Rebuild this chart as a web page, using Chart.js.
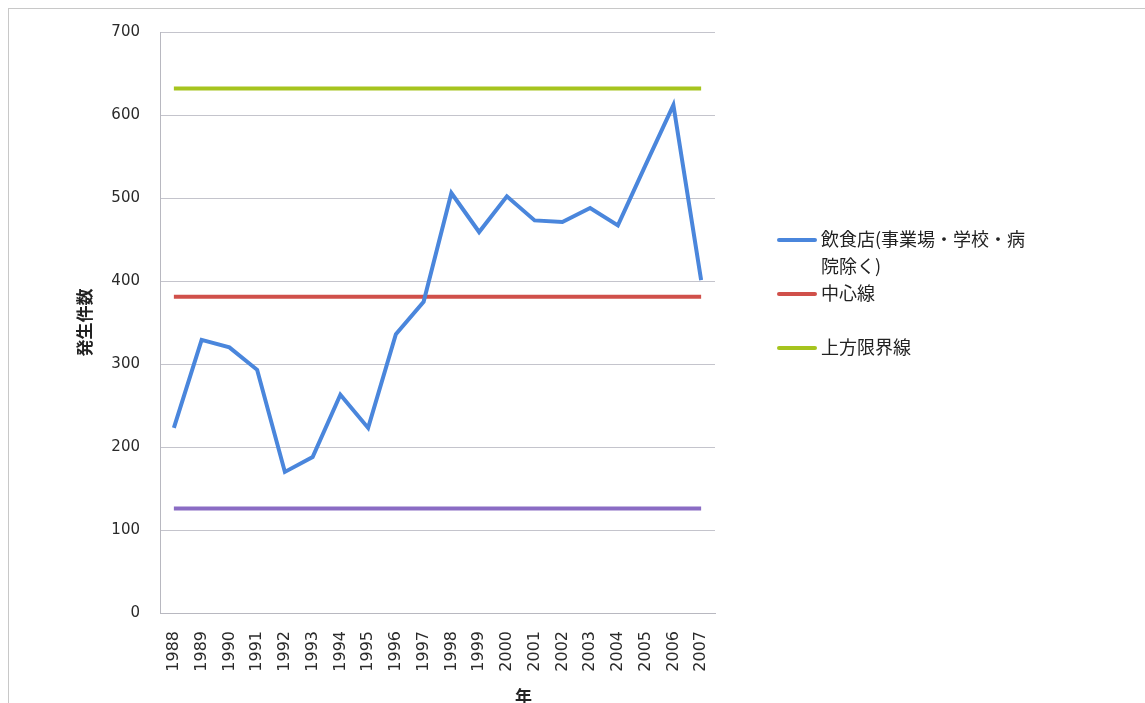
<!DOCTYPE html>
<html>
<head>
<meta charset="utf-8">
<script src="https://cdn.jsdelivr.net/npm/chart.js@4/dist/chart.umd.min.js"></script>
<style>
    html, body { margin: 0; padding: 0; background: #fff; }
    #wrap { position: relative; width: 1145px; height: 703px; overflow: hidden; }
    #frame { position: absolute; left: 8px; top: 8px; width: 1200px; height: 800px; border: 1px solid #c8c8c8; box-sizing: border-box; }
    #legend { position: absolute; left: 777px; top: 225px; font-family: "Noto Sans CJK JP", sans-serif; font-size: 18px; color: #222; }
    .item { display: flex; align-items: flex-start; line-height: 27px; }
    .swatch { width: 40px; height: 4px; margin-top: 13px; margin-right: 4px; border-radius: 2px; flex: none; }
</style>
</head>
<body>
<div id="wrap">
    <div id="frame"></div>
    <canvas id="chart" width="1145" height="703"></canvas>
    <div id="legend"></div>
</div>
<script>
const years = ['1988', '1989', '1990', '1991', '1992', '1993', '1994', '1995', '1996', '1997',
    '1998', '1999', '2000', '2001', '2002', '2003', '2004', '2005', '2006', '2007'];
const cases = [223, 329, 320, 293, 170, 188, 263, 223, 336, 375,
    506, 459, 502, 473, 471, 488, 467, 540, 612, 401];
const centerLine = 381;
const upperLimit = 632;
const lowerLimit = 126;
const yTicks = [0, 100, 200, 300, 400, 500, 600, 700];

const seriesNames = ['飲食店(事業場・学校・病院除く)', '中心線', '上方限界線', '下方限界線'];
const seriesColors = ['#4a86dc', '#d0504a', '#a6c41e', '#8a6cc4'];
// legend rows: [series index, text lines]
const legendRows = [
    [0, ['飲食店(事業場・学校・病', '院除く)']],
    [1, ['中心線']],
    [2, ['上方限界線']]
];
const xTitle = '年';

function flat(v) {
    return years.map(() => v);
}

const seriesData = [cases, flat(centerLine), flat(upperLimit), flat(lowerLimit)];

const datasets = seriesNames.map((name, i) => ({
    label: name,
    data: seriesData[i],
    borderColor: seriesColors[i],
    backgroundColor: seriesColors[i],
    borderWidth: 4,
    pointRadius: 0,
    tension: 0,
    fill: false
}));

// the x axis title sits right of centre in the original, so draw it by hand
const xTitlePlugin = {
    id: 'xTitle',
    afterDraw(chart) {
        const c = chart.ctx;
        const area = chart.chartArea;
        c.save();
        c.font = 'bold 17px "Noto Sans CJK JP"';
        c.fillStyle = '#222';
        c.textAlign = 'center';
        c.textBaseline = 'middle';
        c.fillText(xTitle, area.left + (area.right - area.left) * 0.655, 697);
        c.restore();
    }
};

const ctx = document.getElementById('chart').getContext('2d');
new Chart(ctx, {
    type: 'line',
    data: { labels: years, datasets: datasets },
    plugins: [xTitlePlugin],
    options: {
        responsive: false,
        animation: false,
        layout: { padding: { left: 72, right: 430, top: 32, bottom: 0 } },
        plugins: {
            legend: { display: false },
            tooltip: { enabled: false }
        },
        scales: {
            x: {
                offset: true,
                grid: { display: false },
                border: { display: true, color: '#b8b8c0', width: 1 },
                ticks: {
                    minRotation: 90,
                    maxRotation: 90,
                    autoSkip: false,
                    padding: 10,
                    color: '#2a2a2a',
                    font: { family: 'DejaVu Sans', size: 16 }
                },
                afterFit: s => { s.height = 90; }
            },
            y: {
                min: 0,
                max: 700,
                afterBuildTicks: s => { s.ticks = yTicks.map(v => ({ value: v })); },
                grid: { color: '#c4c4cc', lineWidth: 1, drawTicks: false },
                border: { display: true, color: '#b8b8c0', width: 1 },
                ticks: {
                    padding: 20,
                    color: '#2a2a2a',
                    font: { family: 'DejaVu Sans', size: 15 }
                },
                title: {
                    display: true,
                    text: '発生件数',
                    color: '#222',
                    padding: { top: 2, bottom: 0 },
                    font: { family: 'Noto Sans CJK JP', size: 17, weight: 'bold' }
                },
                afterFit: s => { s.width = 88; }
            }
        }
    }
});

const legend = document.getElementById('legend');
legendRows.forEach((row, n) => {
    const item = document.createElement('div');
    item.className = 'item';
    if (n === 2) item.style.marginTop = '27px';
    item.innerHTML = `<div class="swatch" style="background:${seriesColors[row[0]]}"></div><div>${row[1].join('<br>')}</div>`;
    legend.appendChild(item);
});
</script>
</body>
</html>
